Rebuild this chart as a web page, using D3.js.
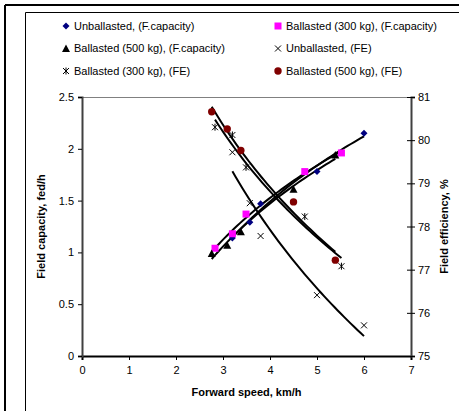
<!DOCTYPE html>
<html>
<head>
<meta charset="utf-8">
<script src="https://cdn.jsdelivr.net/npm/d3@7"></script>
<style>
  body { margin: 0; background: #fff; }
  svg { display: block; font-family: "Liberation Sans", Arial, sans-serif; }
</style>
</head>
<body>
<svg width="459" height="411"></svg>
<script>
// Forward speed (km/h) per treatment
const speedUnballasted = [3.2, 3.57, 3.8, 5.0, 6.0];
const speed300 = [2.83, 3.2, 3.49, 4.74, 5.52];
const speed500 = [2.76, 3.09, 3.38, 4.5, 5.39];

// Field capacity, fed/h
const capUnballasted = [1.14, 1.29, 1.47, 1.78, 2.15];
const cap300 = [1.04, 1.18, 1.37, 1.78, 1.96];
const cap500 = [0.99, 1.07, 1.2, 1.61, 1.94];

// Field efficiency, %
const feUnballasted = [79.72, 78.54, 77.78, 76.41, 75.71];
const fe300 = [80.3, 80.12, 79.37, 78.23, 77.08];
const fe500 = [80.66, 80.26, 79.76, 78.57, 77.22];

const xTicks = [0, 1, 2, 3, 4, 5, 6, 7];
const yLeftTicks = [0, 0.5, 1, 1.5, 2, 2.5];
const yRightTicks = [75, 76, 77, 78, 79, 80, 81];

const series = [
  { name: 'Unballasted, (F.capacity)', x: speedUnballasted, y: capUnballasted, axis: 'left', marker: 'diamond', color: '#000080' },
  { name: 'Ballasted (300 kg), (F.capacity)', x: speed300, y: cap300, axis: 'left', marker: 'square', color: '#ff00ff' },
  { name: 'Ballasted (500 kg), (F.capacity)', x: speed500, y: cap500, axis: 'left', marker: 'triangle', color: '#000000' },
  { name: 'Unballasted, (FE)', x: speedUnballasted, y: feUnballasted, axis: 'right', marker: 'cross', color: '#000000' },
  { name: 'Ballasted (300 kg), (FE)', x: speed300, y: fe300, axis: 'right', marker: 'star', color: '#000000' },
  { name: 'Ballasted (500 kg), (FE)', x: speed500, y: fe500, axis: 'right', marker: 'circle', color: '#800000' }
];

const svg = d3.select('svg');
const plot = { left: 82, right: 411, top: 97, bottom: 356 };

const x = d3.scaleLinear().domain([0, 7]).range([plot.left, plot.right]);
const yL = d3.scaleLinear().domain([0, 2.5]).range([plot.bottom, plot.top]);
const yR = d3.scaleLinear().domain([75, 81]).range([plot.bottom, plot.top]);

// Frames
svg.append('line').attr('x1', 5).attr('x2', 459).attr('y1', 5).attr('y2', 5)
  .attr('stroke', '#000').attr('stroke-width', 2);
svg.append('line').attr('x1', 5).attr('x2', 5).attr('y1', 5).attr('y2', 411)
  .attr('stroke', '#000').attr('stroke-width', 2);
svg.append('line').attr('x1', 25.5).attr('x2', 459).attr('y1', 12.5).attr('y2', 12.5)
  .attr('stroke', '#000').attr('stroke-width', 1);
svg.append('line').attr('x1', 25.5).attr('x2', 25.5).attr('y1', 12.5).attr('y2', 411)
  .attr('stroke', '#000').attr('stroke-width', 1);

// Plot area top border
svg.append('line').attr('x1', plot.left).attr('x2', plot.right)
  .attr('y1', plot.top + 0.5).attr('y2', plot.top + 0.5)
  .attr('stroke', '#808080').attr('stroke-width', 1);

// Axes
function styleAxis(g) {
  g.selectAll('text').attr('fill', '#000').style('font-size', '11px')
    .style('font-family', '"Liberation Sans", Arial, sans-serif');
  g.selectAll('line').attr('stroke', '#000');
}

svg.append('g')
  .attr('transform', `translate(0,${plot.bottom})`)
  .call(d3.axisBottom(x).tickValues(xTicks).tickFormat(d3.format('d')).tickSize(4).tickPadding(6))
  .call(g => g.select('.domain').attr('stroke', '#000').attr('stroke-width', 2))
  .call(styleAxis);

svg.append('g')
  .attr('transform', `translate(${plot.left},0)`)
  .call(d3.axisLeft(yL).tickValues(yLeftTicks).tickFormat(d => String(d)).tickSize(4).tickPadding(4))
  .call(g => g.select('.domain').attr('stroke', '#404040').attr('stroke-width', 2))
  .call(styleAxis);

const right = svg.append('g')
  .attr('transform', `translate(${plot.right},0)`)
  .call(d3.axisRight(yR).tickValues(yRightTicks).tickFormat(d3.format('d')).tickSize(4).tickPadding(3))
  .call(g => g.select('.domain').attr('stroke', '#404040').attr('stroke-width', 2))
  .call(styleAxis);
right.selectAll('.tick line').attr('x1', -4);

// Axis titles
svg.append('text')
  .attr('x', (plot.left + plot.right) / 2).attr('y', 396)
  .attr('text-anchor', 'middle').attr('font-weight', 'bold').style('font-size', '11px')
  .text('Forward speed, km/h');

svg.append('text')
  .attr('transform', `translate(45,${(plot.top + plot.bottom) / 2}) rotate(-90)`)
  .attr('text-anchor', 'middle').attr('font-weight', 'bold').style('font-size', '11px')
  .text('Field capacity, fed/h');

svg.append('text')
  .attr('transform', `translate(448,${(plot.top + plot.bottom) / 2}) rotate(-90)`)
  .attr('text-anchor', 'middle').attr('font-weight', 'bold').style('font-size', '11px')
  .text('Field efficiency, %');

// Logarithmic trend lines (y = a + b ln x), fitted from the data
function logFit(xs, ys) {
  const lx = xs.map(Math.log);
  const mx = d3.mean(lx);
  const my = d3.mean(ys);
  const sxy = d3.sum(lx, (v, i) => (v - mx) * (ys[i] - my));
  const sxx = d3.sum(lx, v => (v - mx) * (v - mx));
  const b = sxy / sxx;
  const a = my - b * mx;
  return v => a + b * Math.log(v);
}

const trends = svg.append('g').attr('class', 'trends');
series.forEach(s => {
  const f = logFit(s.x, s.y);
  const [x0, x1] = d3.extent(s.x);
  const pts = d3.range(0, 41).map(i => x0 + (x1 - x0) * i / 40);
  const yScale = s.axis === 'left' ? yL : yR;
  trends.append('path')
    .datum(pts)
    .attr('fill', 'none')
    .attr('stroke', '#000')
    .attr('stroke-width', 2)
    .attr('d', d3.line().x(d => x(d)).y(d => yScale(f(d))));
});

// Markers
function drawMarker(g, type, color) {
  if (type === 'diamond') {
    g.append('path').attr('d', 'M0,-3.5L3.5,0L0,3.5L-3.5,0Z').attr('fill', color);
  } else if (type === 'square') {
    g.append('rect').attr('x', -3.5).attr('y', -3.5).attr('width', 7).attr('height', 7).attr('fill', color);
  } else if (type === 'triangle') {
    g.append('path').attr('d', 'M0,-4L4,3.5L-4,3.5Z').attr('fill', color);
  } else if (type === 'cross') {
    g.append('path').attr('d', 'M-3,-3L3,3M-3,3L3,-3').attr('stroke', color).attr('stroke-width', 1);
  } else if (type === 'star') {
    g.append('path').attr('d', 'M-3,-3L3,3M-3,3L3,-3M0,-3.5L0,3.5').attr('stroke', color).attr('stroke-width', 1);
  } else if (type === 'circle') {
    g.append('circle').attr('r', 3.7).attr('fill', color);
  }
}

series.forEach(s => {
  const yScale = s.axis === 'left' ? yL : yR;
  s.x.forEach((v, i) => {
    const g = svg.append('g').attr('transform', `translate(${x(v)},${yScale(s.y[i])})`);
    drawMarker(g, s.marker, s.color);
  });
});

// Legend
const legend = svg.append('g')
  .selectAll('g')
  .data(series)
  .enter()
  .append('g')
  .attr('transform', (d, i) => `translate(${i % 2 === 0 ? 66 : 278},${[26, 48.5, 71][Math.floor(i / 2)]})`);

legend.each(function (d) { drawMarker(d3.select(this), d.marker, d.color); });

legend.append('text')
  .attr('x', 8)
  .attr('dy', '0.35em')
  .style('font-size', '11px')
  .text(d => d.name);
</script>
</body>
</html>
